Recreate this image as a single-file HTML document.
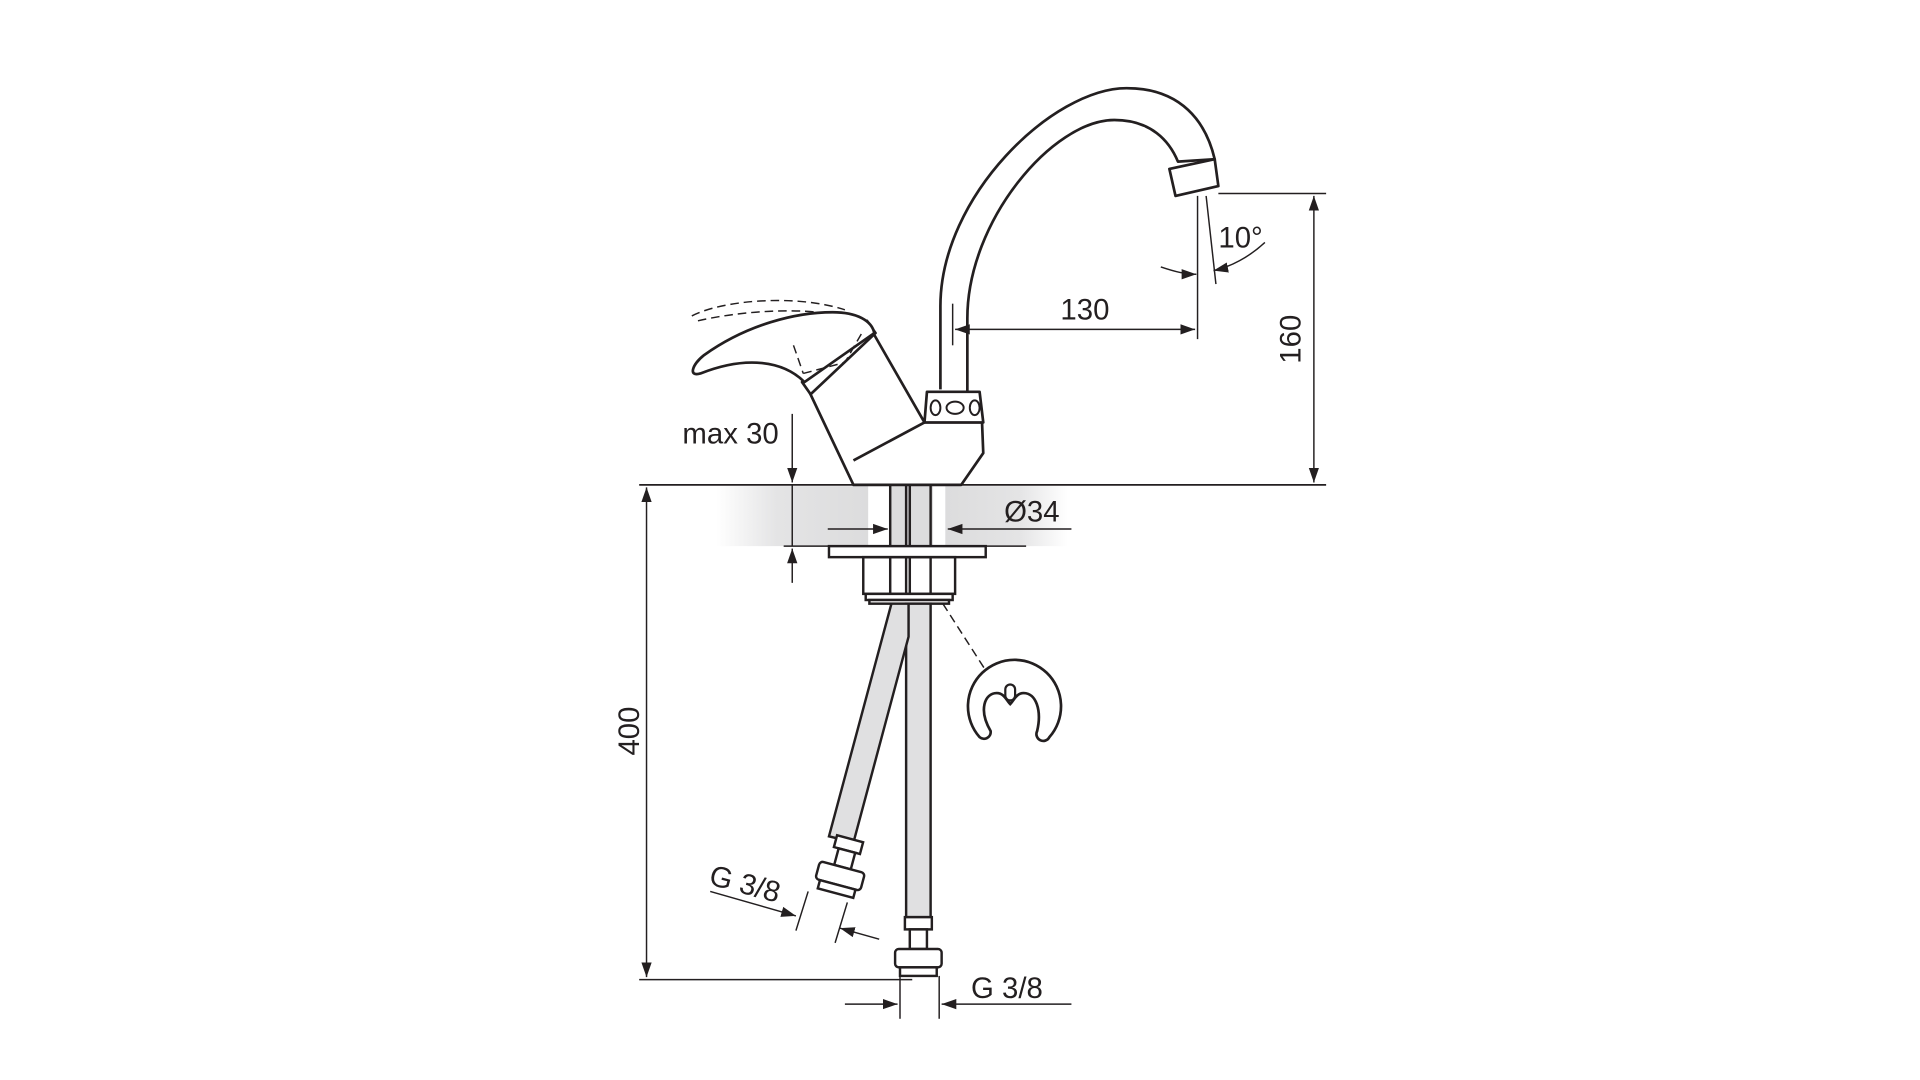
<!DOCTYPE html>
<html><head><meta charset="utf-8"><style>
html,body{margin:0;padding:0;background:#fff;}
svg{display:block}
text{font-family:"Liberation Sans",sans-serif;fill:#231f20}
</style></head><body>
<svg width="1920" height="1080" viewBox="0 0 1568 882" xmlns="http://www.w3.org/2000/svg">
<defs>
<linearGradient id="gl" x1="0" x2="1" y1="0" y2="0">
<stop offset="0" stop-color="#fff"/><stop offset="0.4" stop-color="#e4e4e5"/><stop offset="1" stop-color="#dcdcdd"/></linearGradient>
<linearGradient id="gr" x1="0" x2="1" y1="0" y2="0">
<stop offset="0" stop-color="#dcdcdd"/><stop offset="0.6" stop-color="#e4e4e5"/><stop offset="1" stop-color="#fff"/></linearGradient>
<marker id="a" viewBox="0 0 10 10" refX="10" refY="5" markerWidth="12" markerHeight="12" orient="auto-start-reverse" markerUnits="userSpaceOnUse"><path d="M0,1.5 L10,5 L0,8.5z" fill="#231f20"/></marker>
</defs>
<g stroke="#231f20" fill="none" stroke-width="1.2">
<rect x="585" y="397" width="124" height="49" fill="url(#gl)" stroke="none"/>
<rect x="772" y="397" width="100" height="49" fill="url(#gr)" stroke="none"/>
<rect x="727" y="397" width="35" height="49" fill="#dcdcdd" stroke="none"/>
<line x1="522" y1="396" x2="1083" y2="396" stroke-width="1.4"/>
<g stroke-width="2">
<line x1="727" y1="396" x2="727" y2="485"/><line x1="740" y1="396" x2="740" y2="485"/><line x1="743" y1="396" x2="743" y2="485"/><line x1="760" y1="396" x2="760" y2="485"/>
<rect x="677" y="446" width="128" height="9" fill="#fff"/>
<rect x="705" y="455" width="75" height="30" fill="none"/>
<rect x="707" y="485" width="71" height="5" fill="#fff"/>
<rect x="710" y="490" width="65" height="3" fill="#fff"/>
</g>
<line x1="640" y1="446" x2="838" y2="446"/>
<g stroke-width="2" fill="#e0e0e1">
<rect x="740" y="493" width="20" height="256"/>
<path d="M728,493 L742,493 L742,520 L697,688 L677,683 Z"/>
</g>
<g stroke-width="2" fill="#fff">
<rect x="739" y="749" width="22" height="10"/>
<rect x="743" y="759" width="14" height="16"/>
<rect x="731" y="775" width="38" height="15" rx="3"/>
<rect x="735" y="790" width="30" height="7"/>
<g transform="translate(687,712) rotate(15)">
<rect x="-11" y="-28" width="22" height="10"/>
<rect x="-7" y="-18" width="14" height="14"/>
<rect x="-19" y="-4" width="38" height="15" rx="3"/>
<rect x="-15" y="11" width="30" height="7"/>
</g>
</g>
<g stroke-width="2.2" fill="#fff" stroke-linejoin="round">
<path d="M660,318 L712,270 L755,345 L802,345 L803,370 L785,396 L697,396 Z"/>
<path d="M697,376 L755,345"/>
<path d="M655,312 L708,262 L715,272 L662,322 Z"/>
<path d="M768,318 L768,250 C768,160 860,72 920,72 C965,72 985,100 992,130 L962,132 C955,115 940,98 910,98 C860,98 790,180 790,260 L790,320"/>
<path d="M955,138 L992,130 L995,152 L960,160 Z"/>
<path d="M757,320 L800,320 L803,345 L755,345 Z"/>
<path d="M657,312 C640,295 610,290 572,305 C562,308 565,298 575,290 C610,265 650,255 680,255 C700,255 712,262 714,272 Z"/>
</g>
<g stroke-width="1.6"><ellipse cx="764" cy="333" rx="4" ry="6"/><ellipse cx="780" cy="333" rx="7" ry="5"/><ellipse cx="796" cy="333" rx="4" ry="6"/></g>
<g stroke-dasharray="7,4" stroke-width="1.2">
<path d="M565,258 C590,245 650,240 690,253"/><path d="M570,262 C600,255 640,252 668,255"/>
<path d="M648,282 L656,305 M656,305 L690,296 L705,270"/>
</g>
<path d="M800,602 A38,38 0 1 1 857,602 A5.5,5.5 0 0 1 847,597 C851,580 846,566 836,566 C830,566 828,572 825,575 C822,572 820,566 814,566 C804,566 799,580 809,597 A5.5,5.5 0 0 1 800,602 Z" stroke-width="2.2"/>
<rect x="821" y="559" width="8" height="13" rx="4" stroke-width="1.8"/>
<line x1="770" y1="493" x2="804" y2="546" stroke-dasharray="7,4"/>
<line x1="1073" y1="160" x2="1073" y2="394" marker-start="url(#a)" marker-end="url(#a)"/>
<line x1="995" y1="158" x2="1083" y2="158"/>
<line x1="780" y1="269" x2="976" y2="269" marker-start="url(#a)" marker-end="url(#a)"/>
<line x1="778" y1="248" x2="778" y2="282"/>
<line x1="978" y1="160" x2="978" y2="277"/>
<line x1="985" y1="160" x2="993" y2="232"/>
<path d="M948,218 C960,222 968,224 977,224" marker-end="url(#a)"/>
<path d="M1033,198 C1020,210 1005,218 991,221" marker-end="url(#a)"/>
<line x1="647" y1="338" x2="647" y2="394" marker-end="url(#a)"/>
<line x1="647" y1="396" x2="647" y2="446"/>
<line x1="647" y1="476" x2="647" y2="448" marker-end="url(#a)"/>
<line x1="528" y1="398" x2="528" y2="798" marker-start="url(#a)" marker-end="url(#a)"/>
<line x1="522" y1="800" x2="745" y2="800"/>
<line x1="676" y1="432" x2="725" y2="432" marker-end="url(#a)"/>
<line x1="875" y1="432" x2="774" y2="432" marker-end="url(#a)"/>
<line x1="690" y1="820" x2="733" y2="820" marker-end="url(#a)"/>
<line x1="875" y1="820" x2="769" y2="820" marker-end="url(#a)"/>
<line x1="735" y1="797" x2="735" y2="832"/><line x1="767" y1="797" x2="767" y2="832"/>
<line x1="580" y1="728" x2="650" y2="748" marker-end="url(#a)"/>
<line x1="718" y1="767" x2="686" y2="758" marker-end="url(#a)"/>
<line x1="660" y1="728" x2="650" y2="760"/><line x1="692" y1="737" x2="682" y2="770"/>
</g>
<g font-size="24">
<text x="866" y="261">130</text>
<text x="995" y="202">10°</text>
<text x="1062" y="277" transform="rotate(-90 1062 277)" text-anchor="middle">160</text>
<text x="636" y="362" text-anchor="end">max 30</text>
<text x="820" y="426">Ø34</text>
<text x="522" y="597" transform="rotate(-90 522 597)" text-anchor="middle">400</text>
<text x="793" y="815">G 3/8</text>
<text x="578" y="722" transform="rotate(15 578 722)">G 3/8</text>
</g>
</svg>
</body></html>
